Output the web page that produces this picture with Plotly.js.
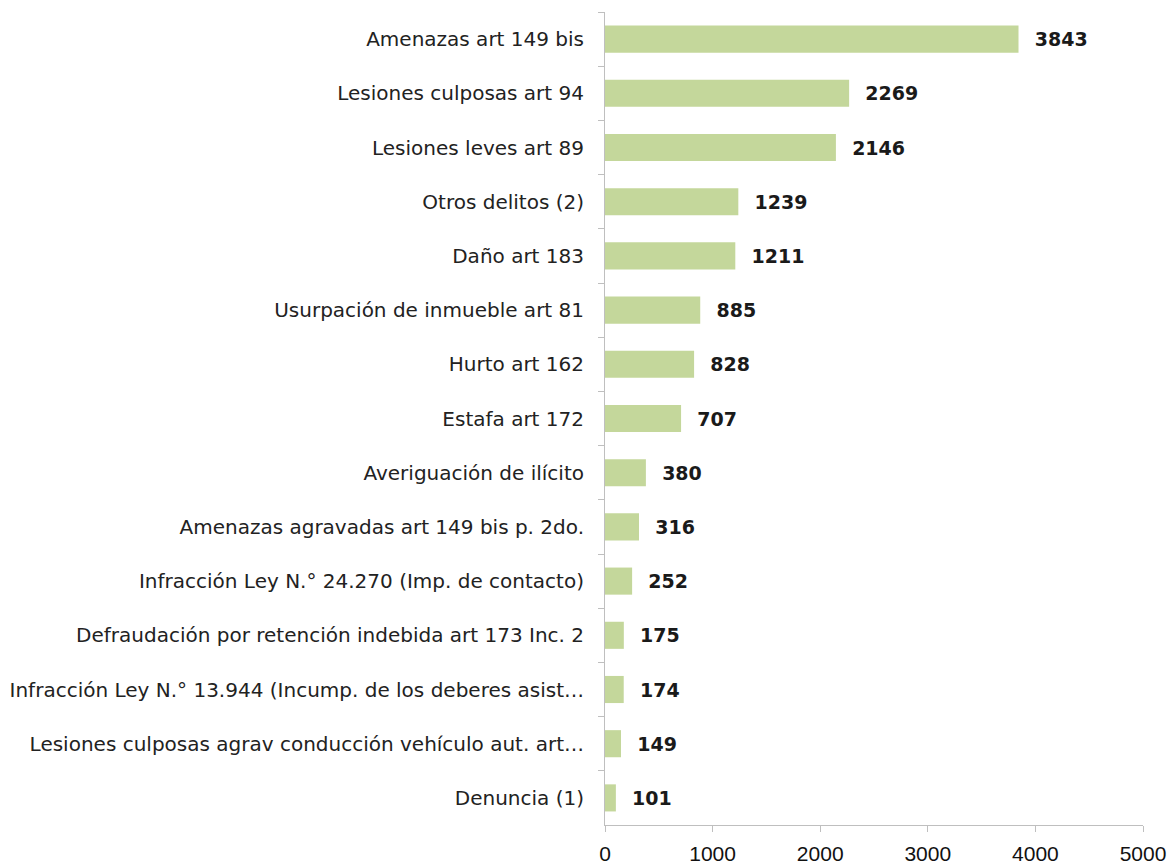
<!DOCTYPE html>
<html><head><meta charset="utf-8">
<script src="https://cdn.plot.ly/plotly-3.0.1.min.js"></script>
<style>body{margin:0;background:#fff}#c{width:1172px;height:865px}</style>
</head><body><div id="c"></div>
<script>
const categories = [
  "Amenazas art 149 bis",
  "Lesiones culposas art 94",
  "Lesiones leves art 89",
  "Otros delitos (2)",
  "Daño art 183",
  "Usurpación de inmueble art 81",
  "Hurto art 162",
  "Estafa art 172",
  "Averiguación de ilícito",
  "Amenazas agravadas art 149 bis p. 2do.",
  "Infracción Ley N.° 24.270 (Imp. de contacto)",
  "Defraudación por retención indebida art 173 Inc. 2",
  "Infracción Ley N.° 13.944 (Incump. de los deberes asist…",
  "Lesiones culposas agrav conducción vehículo aut. art…",
  "Denuncia (1)"
];
const values = [3843, 2269, 2146, 1239, 1211, 885, 828, 707, 380, 316, 252, 175, 174, 149, 101];
const xTicks = [0, 1000, 2000, 3000, 4000, 5000];

const trace = {
  type: 'bar', orientation: 'h',
  y: categories, x: values,
  marker: {color: '#C4D79B'},
  text: values.map(String),
  texttemplate: '  %{text}',
  textposition: 'outside',
  cliponaxis: false,
  textfont: {family: 'DejaVu Sans', size: 19, color: '#1a1a1a', weight: 'bold'},
  hoverinfo: 'none'
};
const layout = {
  width: 1172, height: 865,
  margin: {l: 605, r: 29, t: 12, b: 40},
  paper_bgcolor: '#fff', plot_bgcolor: '#fff',
  showlegend: false,
  bargap: 0.5,
  font: {family: 'DejaVu Sans', color: '#222'},
  xaxis: {
    range: [0, 5000], tickvals: xTicks, ticktext: xTicks.map(String),
    showgrid: false, zeroline: false,
    showline: true, linecolor: '#bfbfbf', linewidth: 1,
    ticks: 'outside', ticklen: 6, tickcolor: '#bfbfbf',
    ticklabelstandoff: 4,
    tickfont: {family: 'Liberation Sans', size: 21, color: '#111'}
  },
  yaxis: {
    autorange: 'reversed', type: 'category',
    showgrid: false, zeroline: false,
    showline: true, linecolor: '#bfbfbf', linewidth: 1,
    ticks: 'outside', ticklen: 6, tickcolor: '#bfbfbf', tickson: 'boundaries',
    ticklabelstandoff: 16,
    tickfont: {family: 'DejaVu Sans', size: 20, color: '#222'}
  }
};
Plotly.newPlot('c', [trace], layout, {displayModeBar: false, staticPlot: true});
</script></body></html>
